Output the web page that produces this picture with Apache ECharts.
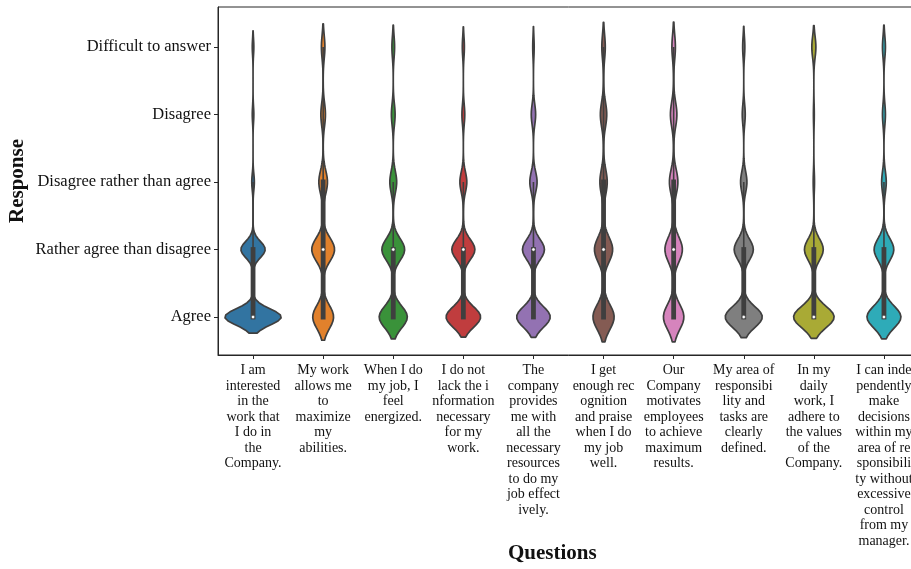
<!DOCTYPE html>
<html>
<head>
<meta charset="utf-8">
<script src="https://cdn.jsdelivr.net/npm/echarts@6/dist/echarts.min.js"></script>
<style>
  html, body { margin: 0; padding: 0; background: #fff; overflow: hidden; }
  #chart { width: 930px; height: 569px; }
</style>
</head>
<body>
<div id="chart"></div>
<script>
// Response scale, bottom to top
const levels = [
  'Agree',
  'Rather agree than disagree',
  'Disagree rather than agree',
  'Disagree',
  'Difficult to answer'
];

// Survey statements (wrapped at ten characters)
const questions = [
  'I am\ninterested\nin the\nwork that\nI do in\nthe\nCompany.',
  'My work\nallows me\nto\nmaximize\nmy\nabilities.',
  'When I do\nmy job, I\nfeel\nenergized.',
  'I do not\nlack the i\nnformation\nnecessary\nfor my\nwork.',
  'The\ncompany\nprovides\nme with\nall the\nnecessary\nresources\nto do my\njob effect\nively.',
  'I get\nenough rec\nognition\nand praise\nwhen I do\nmy job\nwell.',
  'Our\nCompany\nmotivates\nemployees\nto achieve\nmaximum\nresults.',
  'My area of\nresponsibi\nlity and\ntasks are\nclearly\ndefined.',
  'In my\ndaily\nwork, I\nadhere to\nthe values\nof the\nCompany.',
  'I can inde\npendently\nmake\ndecisions\nwithin my\narea of re\nsponsibili\nty without\nexcessive\ncontrol\nfrom my\nmanager.'
];

// Share of answers (%) per statement for each response level
const shareAgree          = [65.3, 34.5, 43.8, 49.7, 48.9, 37.4, 36.3, 54.7, 61.8, 52.9];
const shareRatherAgree    = [28.1, 37.8, 35.5, 33.2, 32.0, 32.2, 31.0, 28.3, 28.7, 30.7];
const shareRatherDisagree = [ 3.0, 14.3, 10.7, 10.0, 10.6, 13.0, 15.0,  9.4,  2.0,  7.2];
const shareDisagree       = [ 1.8,  7.6,  5.8,  4.1,  6.4, 11.3, 11.5,  4.4,  1.3,  4.6];
const shareDifficult      = [ 1.8,  5.8,  4.2,  3.0,  2.1,  6.1,  6.2,  3.2,  6.2,  4.6];

const responseShares = [shareAgree, shareRatherAgree, shareRatherDisagree, shareDisagree, shareDifficult];

const palette = ['#3274a1', '#e1812c', '#3a923a', '#c03d3e', '#9372b2',
                 '#845b53', '#d684bd', '#7f7f7f', '#a9aa35', '#2eabb8'];
const EDGE = '#3f3f3f';

// Kernel density settings (Scott-style bandwidth, tails cut at 2 bandwidths)
const BW_FACTOR = 0.151;
const CUT = 2;
const GRID_N = 100;

function violinStats(qi) {
  const raw = responseShares.map(a => a[qi]);
  const total = raw.reduce((s, v) => s + v, 0);
  const p = raw.map(v => v / total);
  const present = [];
  p.forEach((v, k) => { if (v > 0) present.push(k); });
  const mean = p.reduce((s, v, k) => s + v * k, 0);
  const variance = p.reduce((s, v, k) => s + v * (k - mean) * (k - mean), 0);
  const bw = BW_FACTOR * Math.sqrt(variance);
  const lo = present[0] - CUT * bw;
  const hi = present[present.length - 1] + CUT * bw;
  const ys = [], dens = [];
  for (let j = 0; j < GRID_N; j++) {
    const y = lo + (hi - lo) * j / (GRID_N - 1);
    let d = 0;
    p.forEach((w, k) => {
      const z = (y - k) / bw;
      d += w * Math.exp(-0.5 * z * z) / (bw * Math.sqrt(2 * Math.PI));
    });
    ys.push(y);
    dens.push(d);
  }
  const quant = q => {
    let c = 0;
    for (let k = 0; k < p.length; k++) {
      c += p[k];
      if (c >= q - 1e-9) return k;
    }
    return p.length - 1;
  };
  const q1 = quant(0.25), med = quant(0.5), q3 = quant(0.75);
  const iqr = q3 - q1;
  const lowLim = q1 - 1.5 * iqr, highLim = q3 + 1.5 * iqr;
  const whLo = present.filter(k => k >= lowLim)[0];
  const inside = present.filter(k => k <= highLim);
  const whHi = inside[inside.length - 1];
  return { ys, dens, q1, med, q3, whLo, whHi };
}

const stats = questions.map((_, i) => violinStats(i));
const globalMax = Math.max(...stats.map(s => Math.max(...s.dens)));

const chart = echarts.init(document.getElementById('chart'), null, { renderer: 'canvas' });

const serif = '"Liberation Serif", "DejaVu Serif", serif';

chart.setOption({
  backgroundColor: '#ffffff',
  animation: false,
  grid: {
    left: 218, top: 7, width: 701, height: 348,
    show: true, borderColor: '#262626', borderWidth: 1, backgroundColor: 'transparent'
  },
  xAxis: {
    type: 'category',
    data: questions,
    boundaryGap: true,
    axisLine: { show: true, onZero: false, lineStyle: { color: '#262626', width: 1 } },
    axisTick: { show: true, alignWithLabel: true, length: 4, lineStyle: { color: '#262626' } },
    axisLabel: {
      interval: 0, margin: 8, fontFamily: serif, fontSize: 14, lineHeight: 15.5,
      color: '#111', align: 'center'
    },
    splitLine: { show: false }
  },
  yAxis: {
    type: 'value',
    min: -0.563, max: 4.593,
    axisLine: { show: true, lineStyle: { color: '#262626', width: 1 } },
    axisTick: { show: true, length: 4, customValues: [0, 1, 2, 3, 4], lineStyle: { color: '#262626' } },
    axisLabel: {
      customValues: [0, 1, 2, 3, 4],
      formatter: v => levels[Math.round(v)] || '',
      margin: 7, fontFamily: serif, fontSize: 16.5, color: '#111'
    },
    splitLine: { show: false }
  },
  graphic: [
    {
      type: 'text', left: 568 - 60, top: 543,
      style: { text: 'Questions', font: 'bold 21px ' + serif, fill: '#111', width: 120, align: 'center' }
    },
    {
      type: 'text', x: 18, y: 181, rotation: Math.PI / 2,
      style: { text: 'Response', font: 'bold 21px ' + serif, fill: '#111', align: 'center', verticalAlign: 'middle' }
    }
  ],
  series: [{
    type: 'custom',
    coordinateSystem: 'cartesian2d',
    clip: false,
    data: questions.map((_, i) => [i, 0]),
    renderItem: (params, api) => {
      const qi = api.value(0);
      const st = stats[qi];
      const band = api.size([1, 0])[0];
      const half = 0.4 * band / globalMax;
      const right = [], left = [];
      for (let j = 0; j < st.ys.length; j++) {
        const c = api.coord([qi, st.ys[j]]);
        right.push([c[0] + st.dens[j] * half, c[1]]);
        left.push([c[0] - st.dens[j] * half, c[1]]);
      }
      const pts = right.concat(left.reverse());
      const top = api.coord([qi, st.whHi]);
      const bot = api.coord([qi, st.whLo]);
      const b1 = api.coord([qi, st.q1]);
      const b3 = api.coord([qi, st.q3]);
      const m = api.coord([qi, st.med]);
      return {
        type: 'group',
        children: [
          {
            type: 'polygon',
            shape: { points: pts },
            style: { fill: palette[qi], stroke: EDGE, lineWidth: 1.7, lineJoin: 'round' }
          },
          {
            type: 'line',
            shape: { x1: bot[0], y1: bot[1], x2: top[0], y2: top[1] },
            style: { stroke: EDGE, lineWidth: 1.6 }
          },
          {
            type: 'line',
            shape: { x1: b1[0], y1: b1[1], x2: b3[0], y2: b3[1] },
            style: { stroke: EDGE, lineWidth: 4.8, lineCap: 'square' }
          },
          {
            type: 'circle',
            shape: { cx: m[0], cy: m[1], r: 1.7 },
            style: { fill: '#ffffff', stroke: EDGE, lineWidth: 0.5 }
          }
        ]
      };
    }
  }]
});
</script>
</body>
</html>
